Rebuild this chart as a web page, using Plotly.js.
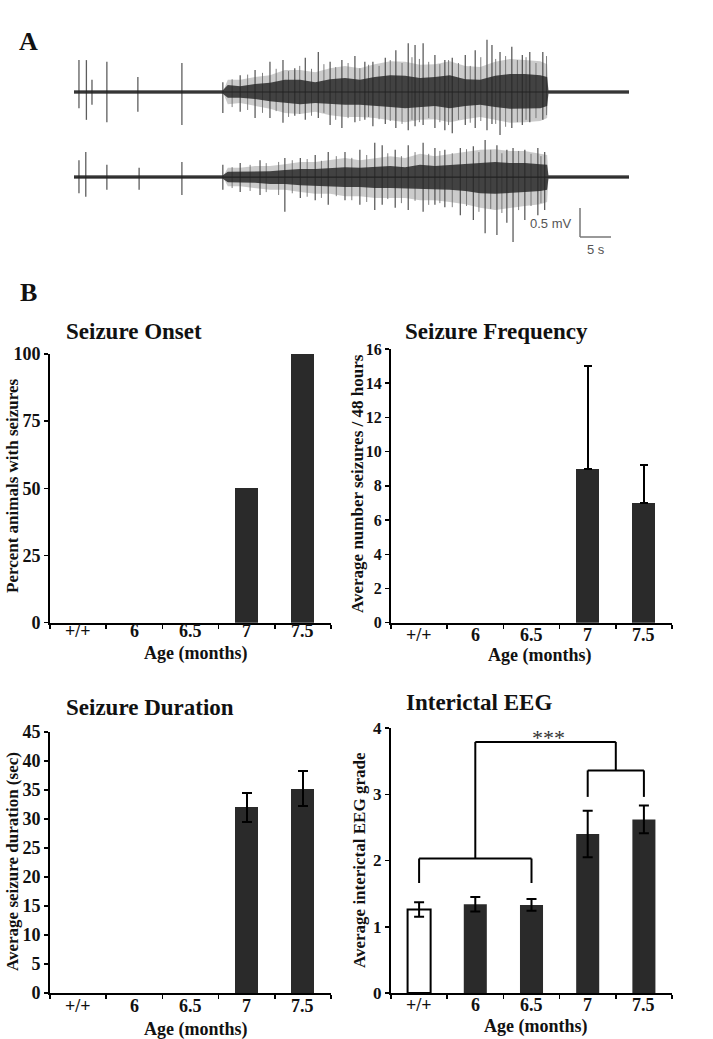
<!DOCTYPE html>
<html>
<head>
<meta charset="utf-8">
<script src="https://cdn.plot.ly/plotly-3.0.1.min.js"></script>
<style>html,body{margin:0;padding:0;background:#fff;}#chart{width:713px;height:1039px;}</style>
</head>
<body>
<div id="chart"></div>
<script>
// ---------- Panel B data ----------
const ageCats = ['+/+', '6', '6.5', '7', '7.5'];
const onsetPct = [0, 0, 0, 50, 100];
const freqMean = [0, 0, 0, 9.0, 7.0];
const freqErr = [null, null, null, 6.0, 2.2];
const durMean = [0, 0, 0, 32.0, 35.2];
const durErr = [null, null, null, 2.5, 3.0];
const eegGrade = [1.26, 1.34, 1.33, 2.40, 2.62];
const eegErr = [0.11, 0.11, 0.09, 0.35, 0.21];

// significance brackets (category index, grade units)
const lowGroupSpan = [0, 2];
const lowGroupLevel = 2.03;
const lowGroupLegEnd = 1.66;
const highGroupSpan = [3, 4];
const highGroupLevel = 3.36;
const highGroupLegEnd = 2.96;
const topBracketLevel = 3.79;
const sigLabel = '***';

// ---------- Panel A data (time in s, amplitude in mV) ----------
const envT = [0, 24.0, 24.8, 26.8, 29.2, 31.6, 34.0, 36.5, 38.9, 41.3, 43.7, 46.1, 48.5, 51.0, 53.4, 55.8, 58.2, 60.6, 63.1, 65.5, 67.9, 70.3, 72.7, 75.2, 76.3, 76.5, 89.5];
const topCoreUp = [0.03, 0.03, 0.12, 0.10, 0.14, 0.16, 0.21, 0.21, 0.17, 0.22, 0.24, 0.21, 0.26, 0.29, 0.28, 0.24, 0.26, 0.29, 0.22, 0.21, 0.28, 0.31, 0.31, 0.29, 0.26, 0.03, 0.03];
const topCoreDn = [0.03, 0.03, 0.10, 0.10, 0.12, 0.16, 0.19, 0.21, 0.19, 0.21, 0.22, 0.22, 0.24, 0.26, 0.28, 0.26, 0.24, 0.28, 0.24, 0.22, 0.26, 0.29, 0.28, 0.28, 0.24, 0.03, 0.03];
const topOuterUp = [0, 0, 0.21, 0.21, 0.26, 0.29, 0.38, 0.38, 0.34, 0.41, 0.45, 0.41, 0.48, 0.53, 0.52, 0.47, 0.48, 0.53, 0.45, 0.43, 0.52, 0.57, 0.55, 0.53, 0.48, 0, 0];
const topOuterDn = [0, 0, 0.21, 0.19, 0.24, 0.29, 0.36, 0.38, 0.34, 0.40, 0.43, 0.43, 0.45, 0.48, 0.52, 0.48, 0.47, 0.52, 0.47, 0.43, 0.48, 0.53, 0.52, 0.50, 0.45, 0, 0];
const botCoreUp = [0.03, 0.03, 0.09, 0.09, 0.10, 0.10, 0.12, 0.14, 0.14, 0.16, 0.17, 0.16, 0.17, 0.19, 0.17, 0.21, 0.19, 0.21, 0.22, 0.24, 0.26, 0.24, 0.24, 0.22, 0.21, 0.03, 0.03];
const botCoreDn = [0.03, 0.03, 0.09, 0.09, 0.10, 0.12, 0.12, 0.14, 0.16, 0.16, 0.17, 0.17, 0.19, 0.19, 0.19, 0.21, 0.21, 0.22, 0.24, 0.28, 0.29, 0.28, 0.26, 0.24, 0.22, 0.03, 0.03];
const botOuterUp = [0, 0, 0.16, 0.16, 0.19, 0.19, 0.22, 0.26, 0.26, 0.29, 0.33, 0.29, 0.33, 0.36, 0.33, 0.40, 0.36, 0.40, 0.43, 0.47, 0.48, 0.45, 0.45, 0.41, 0.38, 0, 0];
const botOuterDn = [0, 0, 0.16, 0.16, 0.19, 0.22, 0.22, 0.26, 0.29, 0.29, 0.33, 0.33, 0.36, 0.36, 0.36, 0.40, 0.40, 0.43, 0.47, 0.53, 0.57, 0.53, 0.50, 0.47, 0.43, 0, 0];

// large spikes
const topSpikeT = [0.8, 2.0, 2.9, 5.3, 10.3, 17.4, 24.0, 26.8, 29.2, 31.6, 33.7, 35.6, 37.3, 39.4, 41.3, 43.2, 45.3, 46.9, 48.2, 50.2, 51.9, 53.9, 55.0, 56.3, 58.2, 59.8, 61.0, 63.1, 64.7, 66.6, 67.4, 68.7, 70.6, 72.3, 73.5, 75.6];
const topSpikeUp = [0.55, 0.55, 0.21, 0.52, 0.26, 0.50, 0.17, 0.29, 0.38, 0.52, 0.55, 0.41, 0.59, 0.69, 0.52, 0.55, 0.62, 0.52, 0.52, 0.59, 0.72, 0.84, 0.81, 0.84, 0.64, 0.55, 0.59, 0.64, 0.72, 0.90, 0.81, 0.69, 0.78, 0.64, 0.69, 0.69];
const topSpikeDn = [-0.28, -0.48, -0.22, -0.52, -0.34, -0.57, -0.36, -0.34, -0.45, -0.45, -0.53, -0.41, -0.48, -0.45, -0.57, -0.62, -0.52, -0.48, -0.59, -0.55, -0.62, -0.66, -0.59, -0.57, -0.62, -0.66, -0.71, -0.57, -0.62, -0.66, -0.55, -0.74, -0.62, -0.57, -0.52, -0.48];
const botSpikeT = [0.8, 1.9, 5.3, 10.5, 17.4, 24.0, 26.8, 30.0, 34.0, 36.5, 38.9, 41.0, 43.7, 46.1, 48.5, 49.7, 51.8, 53.9, 56.3, 58.2, 59.8, 62.3, 64.4, 66.3, 68.2, 69.8, 70.8, 72.7, 74.8, 75.9];
const botSpikeUp = [0.29, 0.43, 0.21, 0.16, 0.26, 0.21, 0.24, 0.29, 0.33, 0.33, 0.38, 0.43, 0.43, 0.47, 0.59, 0.55, 0.47, 0.55, 0.59, 0.50, 0.47, 0.50, 0.53, 0.64, 0.55, 0.47, 0.50, 0.47, 0.50, 0.43];
const botSpikeDn = [-0.28, -0.34, -0.22, -0.22, -0.31, -0.22, -0.26, -0.31, -0.60, -0.36, -0.40, -0.48, -0.40, -0.48, -0.57, -0.48, -0.53, -0.57, -0.60, -0.48, -0.52, -0.66, -0.74, -0.97, -1.00, -0.79, -1.12, -0.74, -0.66, -0.57];
// secondary spikes inside the seizure
const topMidT = [25.5, 28.0, 30.4, 32.6, 34.6, 36.4, 38.3, 40.3, 42.2, 44.2, 46.1, 47.5, 49.2, 51.0, 52.9, 54.5, 55.7, 57.2, 59.0, 60.4, 62.0, 63.9, 65.6, 68.0, 69.6, 71.5, 72.9, 74.5, 76.2];
const topMidUp = [0.22, 0.30, 0.33, 0.40, 0.36, 0.45, 0.40, 0.48, 0.43, 0.50, 0.41, 0.47, 0.45, 0.55, 0.50, 0.60, 0.57, 0.52, 0.48, 0.55, 0.50, 0.45, 0.60, 0.57, 0.62, 0.55, 0.60, 0.50, 0.62];
const topMidDn = [-0.26, -0.31, -0.36, -0.33, -0.43, -0.38, -0.41, -0.36, -0.48, -0.45, -0.50, -0.43, -0.47, -0.50, -0.55, -0.48, -0.52, -0.45, -0.52, -0.57, -0.48, -0.53, -0.50, -0.55, -0.60, -0.52, -0.48, -0.45, -0.40];
const botMidT = [25.5, 28.4, 31.0, 33.0, 35.2, 37.6, 39.9, 42.3, 44.8, 47.2, 50.6, 52.8, 55.0, 57.2, 59.0, 61.0, 63.3, 65.3, 67.2, 69.0, 71.7, 73.7, 75.3];
const botMidUp = [0.17, 0.21, 0.24, 0.26, 0.29, 0.31, 0.28, 0.36, 0.33, 0.38, 0.41, 0.36, 0.43, 0.40, 0.45, 0.41, 0.48, 0.43, 0.47, 0.41, 0.45, 0.40, 0.36];
const botMidDn = [-0.19, -0.24, -0.26, -0.31, -0.28, -0.34, -0.36, -0.33, -0.40, -0.43, -0.38, -0.45, -0.41, -0.48, -0.45, -0.52, -0.50, -0.60, -0.55, -0.62, -0.57, -0.50, -0.45];

const traceEnd = 89.5;
const scaleBarT = [81.6, 86.6];   // 5 s
const scaleBarMV = [-2.0, -2.5];  // 0.5 mV

// ---------- layout helpers ----------
const W = 713, H = 1039;
const px = x => x / W;
const py = y => 1 - y / H;
const SERIF = 'Liberation Serif, Times New Roman, serif';
const SANS = 'Liberation Sans, Arial, sans-serif';
const botOffset = -1.466;

const traces = [];
function envelope(t, up, dn, off, color) {
  const xs = t.concat(t.slice().reverse());
  const ys = up.map(v => off + v).concat(dn.map(v => off - v).reverse());
  return {type: 'scatter', mode: 'lines', x: xs, y: ys, fill: 'toself', fillcolor: color,
    line: {width: 0}, xaxis: 'x5', yaxis: 'y5', hoverinfo: 'skip'};
}
function spikes(t, up, dn, off, color, w) {
  const xs = [], ys = [];
  t.forEach((v, i) => { xs.push(v, v, null); ys.push(off + up[i], off + dn[i], null); });
  return {type: 'scatter', mode: 'lines', x: xs, y: ys, line: {color: color, width: w},
    xaxis: 'x5', yaxis: 'y5', hoverinfo: 'skip'};
}
[[0, topOuterUp, topOuterDn, topCoreUp, topCoreDn, topSpikeT, topSpikeUp, topSpikeDn, topMidT, topMidUp, topMidDn],
 [botOffset, botOuterUp, botOuterDn, botCoreUp, botCoreDn, botSpikeT, botSpikeUp, botSpikeDn, botMidT, botMidUp, botMidDn]].forEach(r => {
  const [off, oU, oD, cU, cD, sT, sU, sD, mT, mU, mD] = r;
  traces.push(envelope(envT, oU, oD, off, 'rgba(140,140,140,0.45)'));
  traces.push(spikes(mT, mU, mD, off, 'rgba(105,105,105,0.85)', 1));
  traces.push(spikes(sT, sU, sD, off, 'rgba(75,75,75,0.9)', 1.3));
  traces.push(envelope(envT, cU, cD, off, 'rgba(35,35,35,0.82)'));
  traces.push({type: 'scatter', mode: 'lines', x: [0, traceEnd], y: [off, off],
    line: {color: '#222', width: 1.2}, xaxis: 'x5', yaxis: 'y5', hoverinfo: 'skip'});
});

// ---------- bars ----------
const BAR = '#2a2a2a';
const plotVal = arr => arr.map(v => v === 0 ? null : v);   // zero-height bars draw nothing
function barTrace(y, err, ax, colors, symmetric, capW) {
  const e = {type: 'data', array: err, visible: !!err, color: '#000', thickness: 2, width: capW};
  if (err && !symmetric) { e.symmetric = false; e.arrayminus = err.map(v => v === null ? null : 0); }
  return {type: 'bar', x: ageCats, y: y, width: 0.41, xaxis: 'x' + ax, yaxis: 'y' + ax,
    marker: {color: colors, line: {color: '#000', width: 0}}, error_y: e, hoverinfo: 'skip'};
}
traces.push(barTrace(plotVal(onsetPct), null, '', BAR, true, 4));
traces.push(barTrace(plotVal(freqMean), freqErr, '2', BAR, false, 4));
traces.push(barTrace(plotVal(durMean), durErr, '3', BAR, true, 5));
const eegColors = eegGrade.map((v, i) => i === 0 ? '#ffffff' : BAR);
const eegTrace = barTrace(eegGrade, eegErr, '4', eegColors, true, 5);
eegTrace.marker.line = {color: '#000', width: eegGrade.map((v, i) => i === 0 ? 2 : 0)};
traces.push(eegTrace);

// ---------- axes ----------
const tickFont = {family: SERIF, size: 18, color: '#111', weight: 'bold'};
function xAx(dom, anchor) {
  return {domain: dom, anchor: anchor, type: 'category', categoryorder: 'array', categoryarray: ageCats,
    range: [-0.5, 4.5], tickson: 'boundaries', showticklabels: false,
    ticks: 'outside', ticklen: 4, tickwidth: 1.5, tickcolor: '#000', showline: true, linecolor: '#000',
    linewidth: 2, showgrid: false, zeroline: false, fixedrange: true};
}
function yAx(dom, anchor, range, step, size) {
  const vals = [];
  for (let v = range[0]; v <= range[1] + 1e-9; v += step) vals.push(v);
  return {domain: dom, anchor: anchor, range: range, tickvals: vals, ticktext: vals.map(v => '<b>' + v + '</b>'),
    ticks: 'outside', ticklen: 4, tickwidth: 1.5, tickcolor: '#000', showline: true, linecolor: '#000',
    linewidth: 2, showgrid: false, zeroline: false, tickfont: Object.assign({}, tickFont, {size: size}),
    fixedrange: true};
}
const leftX = [px(50), px(331)], rightX = [px(391), px(672)];
const layout = {
  width: W, height: H, margin: {l: 0, r: 0, t: 0, b: 0}, paper_bgcolor: '#fff', plot_bgcolor: 'rgba(0,0,0,0)',
  showlegend: false, bargap: 0,
  xaxis: xAx(leftX, 'y'), yaxis: yAx([py(622.7), py(354)], 'x', [0, 100], 25, 18),
  xaxis2: xAx(rightX, 'y2'), yaxis2: yAx([py(622.7), py(349)], 'x2', [0, 16], 2, 16),
  xaxis3: xAx(leftX, 'y3'), yaxis3: yAx([py(993), py(732)], 'x3', [0, 45], 5, 18),
  xaxis4: xAx(rightX, 'y4'), yaxis4: yAx([py(993), py(728)], 'x4', [0, 4], 1, 17),
  xaxis5: {domain: [px(74), px(629)], anchor: 'y5', range: [0, traceEnd], visible: false, fixedrange: true},
  yaxis5: {domain: [py(260), py(30)], anchor: 'x5', range: [(92 - 260) / 58, (92 - 30) / 58], visible: false, fixedrange: true},
  shapes: [], annotations: []
};

// brackets
const bl = {type: 'line', xref: 'x4', yref: 'y4', line: {color: '#000', width: 2}};
const lowMid = (lowGroupSpan[0] + lowGroupSpan[1]) / 2;
const highMid = (highGroupSpan[0] + highGroupSpan[1]) / 2;
[[lowGroupSpan[0], lowGroupLegEnd, lowGroupSpan[0], lowGroupLevel],
 [lowGroupSpan[1], lowGroupLegEnd, lowGroupSpan[1], lowGroupLevel],
 [lowGroupSpan[0], lowGroupLevel, lowGroupSpan[1], lowGroupLevel],
 [highGroupSpan[0], highGroupLegEnd, highGroupSpan[0], highGroupLevel],
 [highGroupSpan[1], highGroupLegEnd, highGroupSpan[1], highGroupLevel],
 [highGroupSpan[0], highGroupLevel, highGroupSpan[1], highGroupLevel],
 [lowMid, lowGroupLevel, lowMid, topBracketLevel],
 [highMid, highGroupLevel, highMid, topBracketLevel],
 [lowMid, topBracketLevel, highMid, topBracketLevel]].forEach(s => {
  layout.shapes.push(Object.assign({}, bl, {x0: s[0], y0: s[1], x1: s[2], y1: s[3]}));
});
layout.annotations.push({xref: 'x4', yref: 'y4', x: 2.3, y: 3.86, text: sigLabel, showarrow: false,
  font: {family: SERIF, size: 22, color: '#333'}, xanchor: 'center', yanchor: 'middle'});

// scale bar for panel A
const sb = {type: 'line', xref: 'x5', yref: 'y5', line: {color: '#777', width: 1.5}};
layout.shapes.push(Object.assign({}, sb, {x0: scaleBarT[0], x1: scaleBarT[0], y0: scaleBarMV[0], y1: scaleBarMV[1]}));
layout.shapes.push(Object.assign({}, sb, {x0: scaleBarT[0], x1: scaleBarT[1], y0: scaleBarMV[1], y1: scaleBarMV[1]}));
layout.annotations.push({xref: 'paper', yref: 'paper', x: px(574), y: py(223), text: '0.5 mV', showarrow: false,
  xanchor: 'right', yanchor: 'middle', font: {family: SANS, size: 13, color: '#555'}});
layout.annotations.push({xref: 'paper', yref: 'paper', x: px(596), y: py(249), text: '5 s', showarrow: false,
  xanchor: 'center', yanchor: 'middle', font: {family: SANS, size: 13, color: '#555'}});

// text annotations
function txt(x, y, text, size, opts) {
  layout.annotations.push(Object.assign({xref: 'paper', yref: 'paper', x: px(x), y: py(y), text: '<b>' + text + '</b>',
    showarrow: false, xanchor: 'center', yanchor: 'middle',
    font: {family: SERIF, size: size, color: '#111', weight: 'bold'}}, opts || {}));
}
// category tick labels
[['x', 631], ['x2', 635], ['x3', 1006], ['x4', 1005]].forEach(([ax, y]) => {
  ageCats.forEach((c, i) => {
    layout.annotations.push({xref: ax, yref: 'paper', x: i, y: py(y), text: '<b>' + c + '</b>', showarrow: false,
      xanchor: 'center', yanchor: 'middle', font: {family: SERIF, size: 18, color: '#111', weight: 'bold'}});
  });
});
txt(28, 42, 'A', 26);
txt(28, 292, 'B', 26);
txt(64, 332, 'Seizure Onset', 23, {xanchor: 'left'});
txt(403, 332, 'Seizure Frequency', 23, {xanchor: 'left'});
txt(64, 707, 'Seizure Duration', 23, {xanchor: 'left'});
txt(404, 702, 'Interictal EEG', 23, {xanchor: 'left'});
txt(12, 486, 'Percent animals with seizures', 17, {textangle: -90});
txt(357, 484, 'Average number seizures / 48 hours', 17, {textangle: -90});
txt(12, 862, 'Average seizure duration (sec)', 17, {textangle: -90});
txt(359, 860, 'Average interictal EEG grade', 17, {textangle: -90});
txt(196, 653, 'Age (months)', 18);
txt(540, 655, 'Age (months)', 18);
txt(196, 1029, 'Age (months)', 18);
txt(536, 1026, 'Age (months)', 18);

Plotly.newPlot('chart', traces, layout, {staticPlot: true, displayModeBar: false});
</script>
</body>
</html>
